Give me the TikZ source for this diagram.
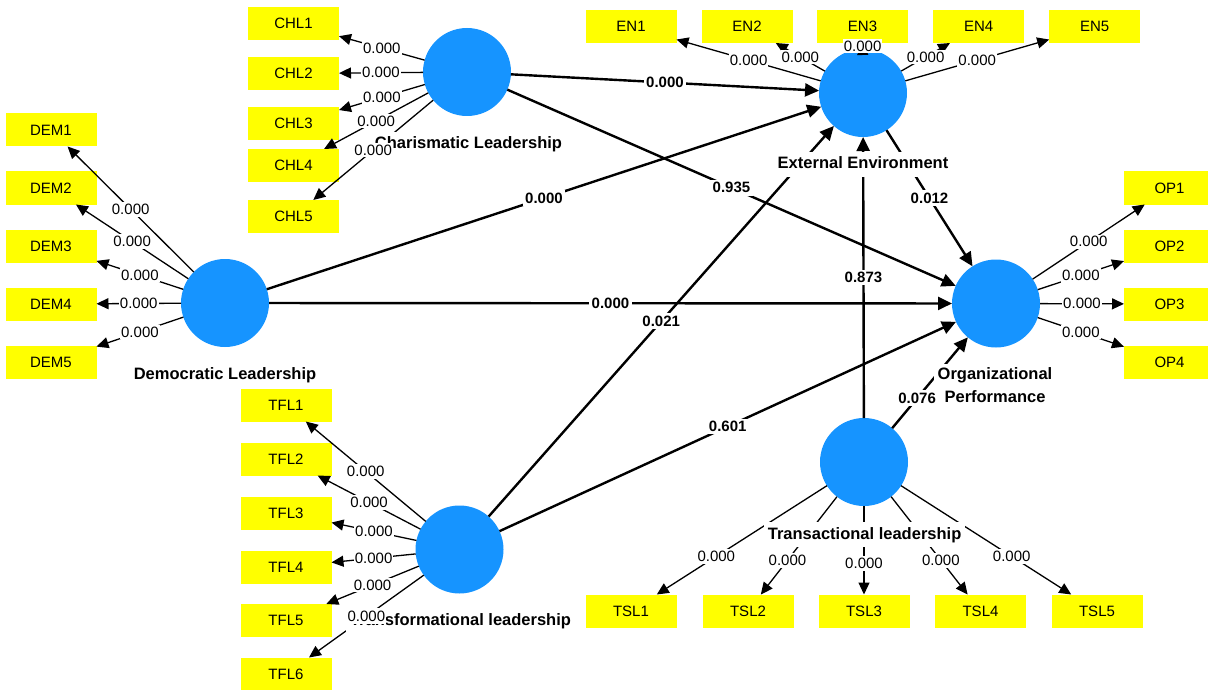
\documentclass[tikz,border=0pt]{standalone}
\usepackage{fontspec}
\setmainfont{Liberation Sans}
\usetikzlibrary{arrows.meta}
\definecolor{lvblue}{RGB}{22,148,255}
\definecolor{indyellow}{RGB}{255,255,0}
\begin{document}
\begin{tikzpicture}[x=1pt,y=-1pt,
  lvnode/.style={circle, fill=lvblue, minimum size=88pt, inner sep=0pt, outer sep=0pt},
  indbox/.style={rectangle, fill=indyellow, minimum width=91pt, minimum height=33pt,
    inner sep=0pt, outer sep=0pt, font=\fontsize{15pt}{18pt}\selectfont},
  patharrow/.style={-{Triangle[length=14pt,width=13pt]}, line width=2.4pt},
  loadarrow/.style={-{Triangle[length=12pt,width=11pt]}, line width=1.3pt},
  lvname/.style={fill=white, inner sep=4pt, font=\fontsize{16.5pt}{23pt}\selectfont\bfseries},
  oneline/.style={anchor=base, text height=13pt, text depth=4pt},
  pathlbl/.style={fill=white, inner sep=2.5pt, pos=0.5, font=\fontsize{15pt}{18pt}\selectfont\bfseries},
  loadlbl/.style={fill=white, inner xsep=1pt, inner ysep=2pt, pos=0.5, font=\fontsize{15pt}{18pt}\selectfont}
]
\useasboundingbox (0,0) rectangle (1208,690);
\clip (0,0) rectangle (1208,690);

% latent constructs
\node[lvnode] (chl) at (467,72) {};
\node[lvnode] (en)  at (863,93) {};
\node[lvnode] (dem) at (225,303) {};
\node[lvnode] (tfl) at (459.5,549.5) {};
\node[lvnode] (tsl) at (864,462) {};
\node[lvnode] (op)  at (996,303.5) {};

% indicators
\foreach \i/\y in {1/23.5,2/73.5,3/123.5,4/165.5,5/216.5}
  \node[indbox] (chl\i) at (293.5,\y) {CHL\i};
\foreach \i/\x in {1/631,2/747,3/862.5,4/978.7,5/1094.7}
  \node[indbox] (en\i) at (\x,26.5) {EN\i};
\foreach \i/\y in {1/130,2/188,3/246,4/304,5/362}
  \node[indbox] (dem\i) at (51,\y) {DEM\i};
\foreach \i/\y in {1/405,2/459,3/513,4/567,5/620.5,6/674}
  \node[indbox] (tfl\i) at (286,\y) {TFL\i};
\foreach \i/\x in {1/631,2/748,3/864,4/980.5,5/1097}
  \node[indbox] (tsl\i) at (\x,611) {TSL\i};
\foreach \i/\y in {1/188,2/246,3/304,4/362}
  \node[indbox] (op\i) at (1169.5,\y) {OP\i};

% structural paths
\draw[patharrow] (chl) -- (en);
\draw[patharrow] (chl) -- (op);
\draw[patharrow] (dem) -- (en);
\draw[patharrow] (dem) -- (op);
\draw[patharrow] (tfl) -- (en);
\draw[patharrow] (tfl) -- (op);
\draw[patharrow] (tsl) -- (en);
\draw[patharrow] (tsl) -- (op);
\draw[patharrow] (en) -- (op);

% outer loadings
\foreach \i in {1,...,5} \draw[loadarrow] (chl) -- (chl\i);
\foreach \i in {1,...,5} \draw[loadarrow] (en) -- (en\i);
\foreach \i in {1,...,5} \draw[loadarrow] (dem) -- (dem\i);
\foreach \i in {1,...,6} \draw[loadarrow] (tfl) -- (tfl\i);
\foreach \i in {1,...,5} \draw[loadarrow] (tsl) -- (tsl\i);
\foreach \i in {1,...,4} \draw[loadarrow] (op) -- (op\i);

% construct names
\node[lvname, oneline] (chlname) at (468.5,149) {Charismatic Leadership};
\node[lvname, oneline] (enname)  at (863,169) {External Environment};
\node[lvname, oneline] (demname) at (225,379) {Democratic Leadership};
\node[lvname, oneline] (tflname) at (460.5,625) {Transformational leadership};
\node[lvname, oneline] (tslname) at (864.6,539) {Transactional leadership};
\node[lvname, align=center] (opname) at (995,385.5) {Organizational\\Performance};

% path coefficients (p values)
\path (chl) -- (en)  node[pathlbl] {0.000};
\path (chl) -- (op)  node[pathlbl] {0.935};
\path (dem) -- (en)  node[pathlbl] {0.000};
\path (dem) -- (op)  node[pathlbl] {0.000};
\path (tfl) -- (en)  node[pathlbl] {0.021};
\path (tfl) -- (op)  node[pathlbl] {0.601};
\path (tsl) -- (en)  node[pathlbl] {0.873};
\path (tsl) -- (op)  node[pathlbl, pos=0.33] {0.076};
\path (en) -- (op)   node[pathlbl] {0.012};

% loading p values
\foreach \i in {1,...,5} \path (chl) -- (chl\i) node[loadlbl] {0.000};
\foreach \i in {1,...,5} \path (en) -- (en\i) node[loadlbl] {0.000};
\foreach \i in {1,...,5} \path (dem) -- (dem\i) node[loadlbl] {0.000};
\foreach \i in {1,...,6} \path (tfl) -- (tfl\i) node[loadlbl] {0.000};
\foreach \i in {1,...,5} \path (tsl) -- (tsl\i) node[loadlbl, pos=0.65] {0.000};
\foreach \i in {1,...,4} \path (op) -- (op\i) node[loadlbl] {0.000};
\end{tikzpicture}
\end{document}
